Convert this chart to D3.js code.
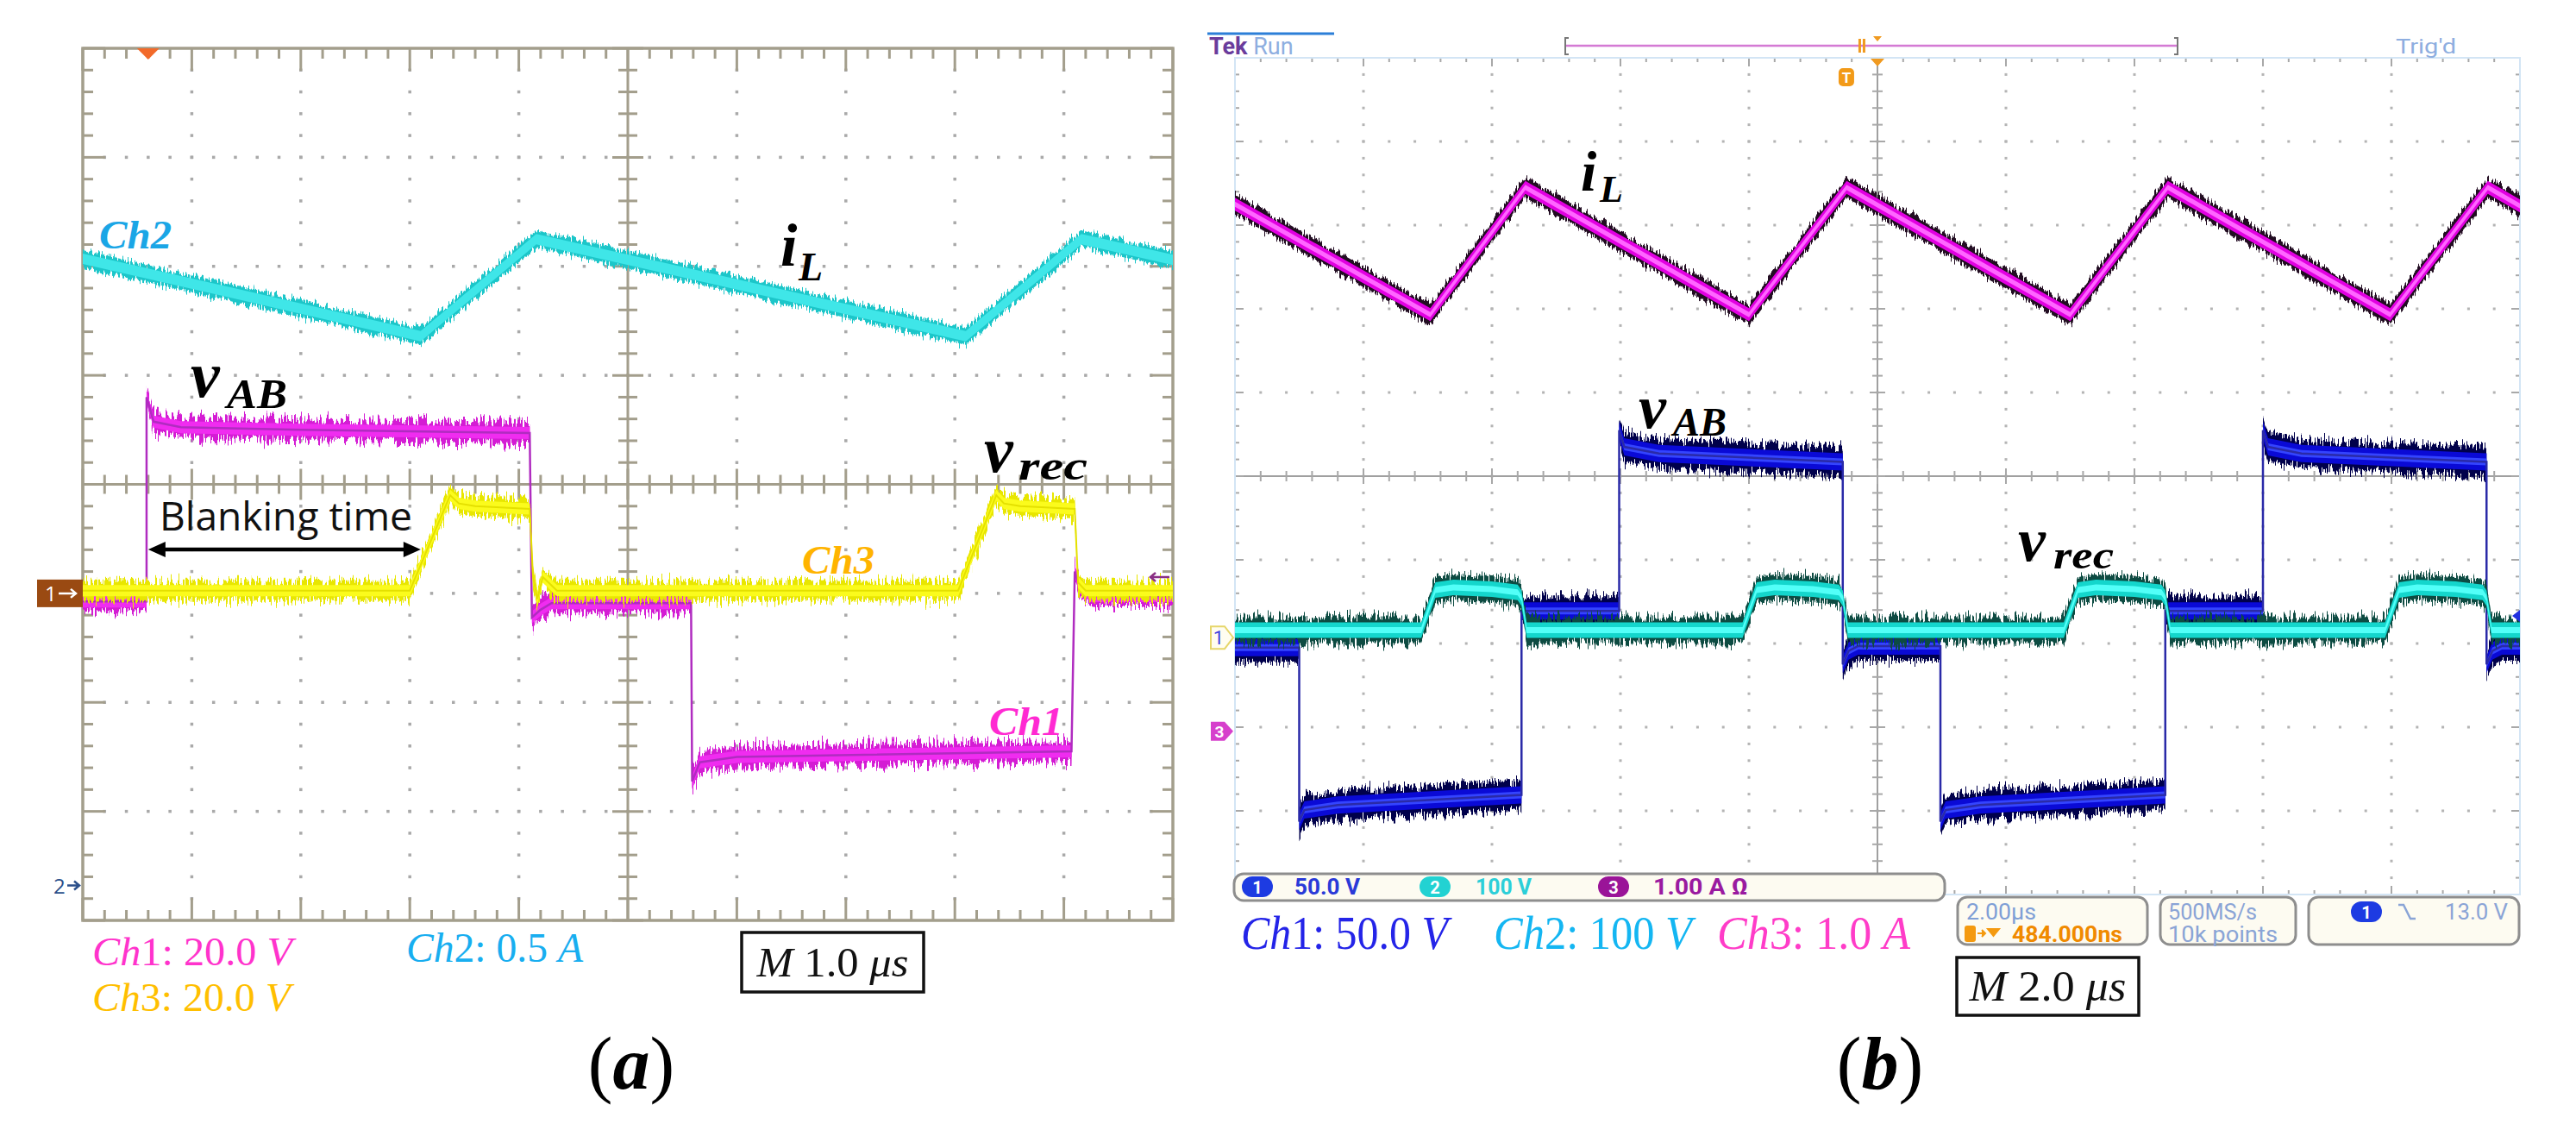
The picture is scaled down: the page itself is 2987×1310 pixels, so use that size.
<!DOCTYPE html>
<html>
<head>
<meta charset="utf-8">
<script src="https://cdn.jsdelivr.net/npm/d3@7"></script>
<style>
  body { margin: 0; background: #fff; }
  svg { display: block; }
</style>
</head>
<body>
<svg id="chart" width="2987" height="1310"></svg>
<script>
// ---------- panel (a): 1.0 us/div, 8 vertical divisions ----------
// channel settings (units per division, ground marker in divisions from centre)
const aPerDiv = [20, 0.5, 20];          // Ch1 V, Ch2 A, Ch3 V
const aGround = [-1, -3.68, -1];

// Ch2 : inductor current iL (A)
const aTimeIL = [0, 3.1, 4.16, 8.1, 9.16, 10];
const aIL     = [2.875, 2.52, 2.965, 2.52, 2.965, 2.87];

// Ch1 : vAB (V)
const aTimeVab = [0, 0.585, 0.585, 0.65, 0.9, 2.0, 4.1, 4.12, 4.2, 4.3, 5.58, 5.59, 5.66, 6.0, 9.07, 9.1, 9.15, 9.25, 10];
const aVab     = [-1.5, -1.5, 36, 31.5, 30.5, 30, 29.4, -4.4, -3, -1.8, -1.8, -34.5, -31, -30, -29, 4, 1, -0.5, -0.5];

// Ch3 : vrec (V)
const aTimeVrec = [0, 3.0, 3.37, 3.45, 3.6, 4.1, 4.13, 4.17, 4.22, 4.35, 8.03, 8.38, 8.45, 8.6, 9.1, 9.13, 9.2, 10];
const aVrec     = [0.5, 0.5, 18, 16.5, 16, 15.5, 3, -1, 3, 0.5, 0.5, 18, 16.5, 16, 15.5, 2, 0.5, 0.5];

// ---------- panel (b): 2.0 us/div, 10 vertical divisions ----------
const bPerDiv = [50, 100, 1];           // Ch1 V, Ch2 V, Ch3 A
const bGround = [-1.93, -1.84, -3.05];

// Ch3 : iL (A)
const bTimeIL = [0, 3.04, 4.52, 8.0, 9.52, 13.0, 14.52, 17.98, 19.5, 20];
const bIL     = [6.3, 4.98, 6.5, 4.98, 6.5, 4.98, 6.5, 4.98, 6.5, 6.28];

// Ch1 : vAB (V)
const bTimeVab = [0, 1.0, 1.0, 1.08, 1.6, 4.46, 4.46, 5.98, 5.98, 6.06, 6.6, 9.46, 9.46, 9.55, 9.7, 10.98, 10.98, 11.06, 11.6, 14.48, 14.48, 16.0, 16.0, 16.08, 16.6, 19.48, 19.48, 19.57, 19.72, 20];
const bVab     = [-6, -6, -110, -103, -100, -94, 16, 16, 124, 114, 110, 105, -16, -8, -5, -5, -110, -103, -100, -94, 16, 16, 124, 114, 110, 105, -16, -8, -5, -5];

// Ch2 : vrec (V)
const bTimeVrec = [0, 2.9, 3.12, 3.4, 4.0, 4.4, 4.46, 4.54, 7.9, 8.12, 8.4, 9.0, 9.4, 9.46, 9.54, 12.9, 13.12, 13.4, 14.0, 14.42, 14.48, 14.56, 17.9, 18.12, 18.4, 19.0, 19.42, 19.48, 19.56, 20];
const bVrec     = [0, 0, 48, 51, 49, 45, 38, 0, 0, 48, 51, 49, 45, 38, 0, 0, 48, 51, 49, 45, 38, 0, 0, 48, 51, 49, 45, 38, 0, 0];

// ---------- labels ----------
const aScaleLabels = ["Ch1: 20.0 V", "Ch2: 0.5 A", "Ch3: 20.0 V"];
const bScaleLabels = ["Ch1: 50.0 V", "Ch2: 100 V", "Ch3: 1.0 A"];
const bBadgeText   = ["50.0 V", "100 V", "1.00 A  \u03A9"];

const MATH = "'Liberation Serif', 'DejaVu Serif', serif";
const SANS = "'Open Sans', 'Noto Sans', sans-serif";
const TEK  = "Roboto, 'DejaVu Sans', sans-serif";

const svg = d3.select("#chart");

// noise filters, only texture for the trace bands
const defs = svg.append("defs");
function noiseFilter(id, scale, seed, fx) {
  const f = defs.append("filter").attr("id", id)
    .attr("filterUnits", "userSpaceOnUse").attr("x", 0).attr("y", 0)
    .attr("width", 2987).attr("height", 1310);
  f.append("feTurbulence").attr("type", "fractalNoise")
    .attr("baseFrequency", fx + " 0.03").attr("numOctaves", 2).attr("seed", seed).attr("result", "t");
  f.append("feColorMatrix").attr("in", "t").attr("type", "matrix")
    .attr("values", "1.6 0 0 0 -0.3  0 0 0 0 0.5  0 0 0 0 0.5  0 0 0 0 1").attr("result", "m");
  f.append("feDisplacementMap").attr("in", "SourceGraphic").attr("in2", "m")
    .attr("scale", scale).attr("xChannelSelector", "G").attr("yChannelSelector", "R");
}
noiseFilter("nz1", 12, 3, 0.5);
noiseFilter("nz2", 22, 7, 0.45);
noiseFilter("nz3", 18, 11, 0.6);

// ---------- scales ----------
const xA = d3.scaleLinear().domain([0, 10]).range([96, 1360]);
const dA = d3.scaleLinear().domain([-4, 4]).range([1067, 56]);
const xB = d3.scaleLinear().domain([0, 20]).range([1432, 2922]);
const dB = d3.scaleLinear().domain([-5, 5]).range([1037, 67]);

// ---------- graticules ----------
function graticule(g, xs, ds, xMaj, yDiv, st) {
  const [t0, t1] = xs.domain();
  const xMajors = d3.range(t0, t1 + 1e-9, xMaj);
  const xMinors = d3.range(t0, t1 + 1e-9, xMaj / 5);
  const yMajors = d3.range(-yDiv, yDiv + 1e-9, 1);
  const yMinors = d3.range(-yDiv, yDiv + 1e-9, 0.2);
  const xc = xs((t0 + t1) / 2), yc = ds(0);
  const X0 = xs(t0), X1 = xs(t1), Y0 = ds(yDiv), Y1 = ds(-yDiv);

  const dots = [];
  xMajors.slice(1, -1).forEach(t => { if (Math.abs(xs(t) - xc) > 1) yMinors.slice(1, -1).forEach(d => dots.push([xs(t), ds(d)])); });
  yMajors.slice(1, -1).forEach(d => { if (Math.abs(ds(d) - yc) > 1) xMinors.slice(1, -1).forEach(t => dots.push([xs(t), ds(d)])); });
  g.selectAll(null).data(dots).enter().append("rect")
    .attr("x", d => d[0] - st.dot / 2).attr("y", d => d[1] - st.dot / 2)
    .attr("width", st.dot).attr("height", st.dot).attr("fill", st.dotColor);

  // centre lines
  g.append("line").attr("x1", X0).attr("x2", X1).attr("y1", yc).attr("y2", yc)
    .attr("stroke", st.center).attr("stroke-width", st.cw);
  g.append("line").attr("x1", xc).attr("x2", xc).attr("y1", Y0).attr("y2", Y1)
    .attr("stroke", st.center).attr("stroke-width", st.cw);
  const tk = [];
  xMinors.forEach((t, i) => { const L = i % 5 === 0 ? st.cMaj : st.cMin; tk.push([xs(t), yc - L, xs(t), yc + L]); });
  yMinors.forEach((d, i) => { const L = i % 5 === 0 ? st.cMaj : st.cMin; tk.push([xc - L, ds(d), xc + L, ds(d)]); });
  // border ticks
  xMinors.forEach((t, i) => {
    const L = i % 5 === 0 ? st.bMaj : st.bMin;
    tk.push([xs(t), Y0, xs(t), Y0 + L]); tk.push([xs(t), Y1, xs(t), Y1 - L]);
  });
  yMinors.forEach((d, i) => {
    const L = i % 5 === 0 ? st.bMaj : st.bMin;
    tk.push([X0, ds(d), X0 + L, ds(d)]); tk.push([X1, ds(d), X1 - L, ds(d)]);
  });
  g.selectAll(null).data(tk).enter().append("line")
    .attr("x1", d => d[0]).attr("y1", d => d[1]).attr("x2", d => d[2]).attr("y2", d => d[3])
    .attr("stroke", st.tick).attr("stroke-width", st.tw);
  g.append("rect").attr("x", X0).attr("y", Y0).attr("width", X1 - X0).attr("height", Y1 - Y0)
    .attr("fill", "none").attr("stroke", st.border).attr("stroke-width", st.bw);
}

const gA = svg.append("g");
graticule(gA, xA, dA, 1, 4, {
  dot: 3.5, dotColor: "#a9a9a9", center: "#a39e8c", cw: 3, cMaj: 18, cMin: 11,
  bMaj: 26, bMin: 12, tick: "#a39e8c", tw: 3, border: "#a39e8c", bw: 3.5
});
const gB = svg.append("g");
graticule(gB, xB, dB, 2, 5, {
  dot: 3, dotColor: "#b4b4b4", center: "#a0a0a0", cw: 2, cMaj: 9, cMin: 6,
  bMaj: 10, bMin: 5, tick: "#a8a8a8", tw: 2, border: "#d3e5f5", bw: 2
});

// ---------- traces ----------
function trace(g, xs, ds, time, vals, perDiv, ground, layers, line) {
  const pts = time.map((t, i) => [xs(t), ds(vals[i] / perDiv + ground)]);
  layers.forEach(L => {
    const p = g.append("path").datum(pts)
      .attr("d", d3.area().x(d => d[0]).y0(d => d[1] - L.h).y1(d => d[1] + L.h))
      .attr("fill", L.c);
    if (L.f) p.attr("filter", "url(#" + L.f + ")");
  });
  if (line) g.append("path").datum(pts).attr("d", d3.line())
    .attr("fill", "none").attr("stroke", line.c).attr("stroke-width", line.w);
}

// panel (a)
trace(gA, xA, dA, aTimeVab, aVab, aPerDiv[0], aGround[0],
  [{h: 12, c: "#d41ad4", f: "nz2"}, {h: 7, c: "#f02cf0"}], {c: "#b02cc0", w: 2.5});
trace(gA, xA, dA, aTimeVrec, aVrec, aPerDiv[2], aGround[2],
  [{h: 11, c: "#e8e600", f: "nz2"}, {h: 6.5, c: "#fbfb1c"}], {c: "#e4e000", w: 2});
trace(gA, xA, dA, aTimeIL, aIL, aPerDiv[1], aGround[1],
  [{h: 10, c: "#1fc6c9", f: "nz1"}, {h: 6, c: "#3fe6e8"}], null);

// panel (b)
trace(gB, xB, dB, bTimeVab, bVab, bPerDiv[0], bGround[0],
  [{h: 17, c: "#00004c", f: "nz3"}, {h: 10, c: "#0a0ad6"}, {h: 4, c: "#3444ff"}], {c: "#2a2aa8", w: 2.5});
trace(gB, xB, dB, bTimeVrec, bVrec, bPerDiv[1], bGround[1],
  [{h: 15, c: "#0a4c42", f: "nz3"}, {h: 9, c: "#14d6cc"}, {h: 3.5, c: "#52fff8"}], null);
trace(gB, xB, dB, bTimeIL, bIL, bPerDiv[2], bGround[2],
  [{h: 12, c: "#230a22", f: "nz1"}, {h: 7.5, c: "#e200e2"}, {h: 3, c: "#ff66ff"}], null);

// ---------- text helpers ----------
function label(g, x, y, str, o) {
  const t = g.append("text").attr("x", x).attr("y", y)
    .attr("font-family", o.family || MATH).attr("font-size", o.size).attr("fill", o.fill || "#000");
  if (o.italic) t.attr("font-style", "italic");
  if (o.bold) t.attr("font-weight", "bold");
  if (o.anchor) t.attr("text-anchor", o.anchor);
  if (o.len) t.attr("textLength", o.len).attr("lengthAdjust", "spacingAndGlyphs");
  t.text(str);
  return t;
}
// squeeze a mixed-style text horizontally to a target width
function fitWidth(t, x, y, len) {
  const w = t.node().getComputedTextLength();
  t.attr("x", 0).attr("y", 0).attr("transform", `translate(${x},${y}) scale(${len / w},1)`);
}
function scaleLabel(g, x, y, str, fill, len, size) {
  // "Ch" and unit italic, numbers upright, like the equation font
  const m = str.match(/^(Ch)(\d: [\d.]+ )(\S+)$/);
  const t = g.append("text").attr("font-family", MATH)
    .attr("font-size", size).attr("fill", fill);
  t.append("tspan").attr("font-style", "italic").text(m[1]);
  t.append("tspan").text(m[2]);
  t.append("tspan").attr("font-style", "italic").text(m[3]);
  fitWidth(t, x, y, len);
}
function panelTag(g, cx, y, letter) {
  const t = g.append("text").attr("x", cx).attr("y", y).attr("text-anchor", "middle")
    .attr("font-family", MATH).attr("font-size", 86).attr("fill", "#000");
  t.append("tspan").text("(");
  t.append("tspan").attr("font-style", "italic").attr("font-weight", "bold").text(letter);
  t.append("tspan").text(")");
}
function timeBox(g, x, y, w, h, str, size, len) {
  g.append("rect").attr("x", x).attr("y", y).attr("width", w).attr("height", h)
    .attr("fill", "#fff").attr("stroke", "#111").attr("stroke-width", 3.5);
  const t = g.append("text").attr("font-family", MATH).attr("font-size", size).attr("fill", "#111");
  t.append("tspan").attr("font-style", "italic").text("M");
  t.append("tspan").text(" " + str + " ");
  t.append("tspan").attr("font-style", "italic").text("\u03BCs");
  fitWidth(t, x + (w - len) / 2, y + h * 0.74, len);
}

// ---------- panel (a) annotations ----------
const tA = svg.append("g");
// trigger position marker and channel markers
tA.append("path").attr("d", `M${xA(0.6) - 13},56 h26 l-13,13 z`).attr("fill", "#f26a2a");
tA.append("rect").attr("x", 43).attr("y", dA(aGround[0]) - 16).attr("width", 53).attr("height", 32).attr("fill", "#9a4a12");
label(tA, 52, dA(aGround[0]) + 9, "1", {family: SANS, size: 24, fill: "#fff"});
tA.append("path").attr("d", `M68,${dA(aGround[0])} h20 m-6,-5 l6,5 l-6,5`).attr("stroke", "#fff").attr("stroke-width", 2.5).attr("fill", "none");
label(tA, 62, dA(aGround[1]) + 9, "2", {family: SANS, size: 24, fill: "#2b4f8a"});
tA.append("path").attr("d", `M78,${dA(aGround[1])} h14 m-6,-5 l6,5 l-6,5`).attr("stroke", "#2b4f8a").attr("stroke-width", 2.5).attr("fill", "none");
// trigger level arrow (3 V on Ch1)
const trigA = dA(3 / aPerDiv[0] + aGround[0]);
tA.append("path").attr("d", `M1356,${trigA} h-22 m6,-5 l-6,5 l6,5`).attr("stroke", "#8a2f86").attr("stroke-width", 2.5).attr("fill", "none");

label(tA, 115, 288, "Ch2", {size: 46, italic: true, bold: true, fill: "#1aa6e6", len: 84});
label(tA, 930, 665, "Ch3", {size: 46, italic: true, bold: true, fill: "#ffb400", len: 84});
label(tA, 1147, 852, "Ch1", {size: 46, italic: true, bold: true, fill: "#ff2ad2", len: 86});
label(tA, 905, 308, "i", {size: 70, italic: true, bold: true});
label(tA, 926, 325, "L", {size: 46, italic: true, bold: true});
label(tA, 221, 460, "v", {size: 76, italic: true, bold: true});
label(tA, 263, 473, "AB", {size: 48, italic: true, bold: true, len: 70});
label(tA, 1141, 547, "v", {size: 76, italic: true, bold: true});
label(tA, 1181, 556, "rec", {size: 48, italic: true, bold: true, len: 80});
label(tA, 185, 615, "Blanking time", {family: SANS, size: 46, fill: "#111", len: 293});
// blanking-time double arrow
const arY = 637, arL = xA(0.6), arR = xA(3.1);
tA.append("line").attr("x1", arL + 14).attr("x2", arR - 14).attr("y1", arY).attr("y2", arY).attr("stroke", "#000").attr("stroke-width", 4.5);
tA.append("path").attr("d", `M${arL},${arY} l20,-9 v18 z M${arR},${arY} l-20,-9 v18 z`).attr("fill", "#000");

scaleLabel(tA, 107, 1119, aScaleLabels[0], "#ff33cc", 232, 46);
scaleLabel(tA, 107, 1172, aScaleLabels[2], "#ffbf00", 230, 46);
scaleLabel(tA, 471, 1115, aScaleLabels[1], "#18aef0", 205, 48);
timeBox(tA, 860, 1081, 211, 69, "1.0", 48, 176);
panelTag(tA, 732, 1262, "a");

// ---------- panel (b) annotations ----------
const tB = svg.append("g");
// header
tB.append("line").attr("x1", 1400).attr("x2", 1547).attr("y1", 39).attr("y2", 39).attr("stroke", "#2c7fd8").attr("stroke-width", 3);
const tek = tB.append("text").attr("x", 1402).attr("y", 63).attr("font-family", TEK).attr("font-size", 27);
tek.append("tspan").attr("fill", "#6a3c9c").attr("font-weight", "bold").text("Tek");
tek.append("tspan").attr("fill", "#8eaee0").text(" Run");
tB.append("line").attr("x1", 1815).attr("x2", 2525).attr("y1", 53).attr("y2", 53).attr("stroke", "#d47ad4").attr("stroke-width", 2.5);
tB.append("path").attr("d", "M1819,44 h-4 v19 h4 M2521,44 h4 v19 h-4").attr("stroke", "#777").attr("stroke-width", 2).attr("fill", "none");
tB.append("rect").attr("x", xB(9.516) + 14).attr("y", 45).attr("width", 3).attr("height", 16).attr("fill", "#f09a20");
tB.append("rect").attr("x", xB(9.516) + 19).attr("y", 45).attr("width", 3).attr("height", 16).attr("fill", "#f09a20");
tB.append("path").attr("d", `M${xB(10) - 5},42 h10 l-5,6 z M${xB(10) - 8},68 h16 l-8,9 z`).attr("fill", "#f09a20");
tB.append("rect").attr("x", xB(9.516) - 9).attr("y", 79).attr("width", 18).attr("height", 21).attr("rx", 5).attr("fill", "#f29a18");
label(tB, xB(9.516), 96, "T", {family: TEK, size: 17, fill: "#fff", anchor: "middle", bold: true});
label(tB, 2778, 62, "Trig'd", {family: TEK, size: 24, fill: "#8eaee0", len: 70});

// channel ground markers
const g1 = dB(bGround[0]), g3 = dB(bGround[2]);
tB.append("path").attr("d", `M1404,${g1 - 13} h16 l10,13 l-10,13 h-16 z`).attr("fill", "#fffdf0").attr("stroke", "#e6d66a").attr("stroke-width", 2);
label(tB, 1413, g1 + 8, "1", {family: TEK, size: 22, fill: "#4040e0", anchor: "middle"});
tB.append("path").attr("d", `M1404,${g3 - 11} h16 l10,11 l-10,11 h-16 z`).attr("fill", "#d640cc");
label(tB, 1414, g3 + 7, "3", {family: TEK, size: 19, fill: "#fff", anchor: "middle", bold: true});
// trigger level (13 V on Ch1)
const trigB = dB(13 / bPerDiv[0] + bGround[0]);
tB.append("path").attr("d", `M2922,${trigB - 7} l-9,7 l9,7 z`).attr("fill", "#2030e0");

label(tB, 1833, 221, "i", {size: 66, italic: true, bold: true});
label(tB, 1855, 234, "L", {size: 44, italic: true, bold: true});
label(tB, 1900, 496, "v", {size: 72, italic: true, bold: true});
label(tB, 1940, 505, "AB", {size: 46, italic: true, bold: true, len: 62});
label(tB, 2340, 650, "v", {size: 72, italic: true, bold: true});
label(tB, 2381, 659, "rec", {size: 46, italic: true, bold: true, len: 70});

// Tek readout bar
function tekBox(x, y, w, h) {
  tB.append("rect").attr("x", x).attr("y", y).attr("width", w).attr("height", h).attr("rx", 11)
    .attr("fill", "#fdfbf1").attr("stroke", "#8e8e8e").attr("stroke-width", 3);
}
function badge(cx, cy, n, fill) {
  tB.append("rect").attr("x", cx - 18).attr("y", cy - 12).attr("width", 36).attr("height", 24).attr("rx", 12).attr("fill", fill);
  label(tB, cx, cy + 8, n, {family: TEK, size: 20, fill: "#fff", anchor: "middle", bold: true});
}
tekBox(1431, 1013, 824, 31);
const badgeX = [1458, 1664, 1871], badgeFill = ["#1d3be2", "#22d2d2", "#9a1498"];
const badgeTextX = [1501, 1711, 1917], badgeTextFill = ["#2a3ad8", "#2ccfd8", "#9a1aa0"], badgeLen = [76, 65, 110];
badgeX.forEach((x, i) => {
  badge(x, 1028, String(i + 1), badgeFill[i]);
  label(tB, badgeTextX[i], 1037, bBadgeText[i], {family: TEK, size: 25, fill: badgeTextFill[i], bold: true, len: badgeLen[i]});
});

tekBox(2270, 1040, 220, 55);
label(tB, 2280, 1066, "2.00\u03BCs", {family: TEK, size: 25, fill: "#7f9fd6", len: 81});
tB.append("rect").attr("x", 2278).attr("y", 1073).attr("width", 13).attr("height", 19).attr("rx", 3).attr("fill", "#f49a10");
tB.append("path").attr("d", "M2293,1082 h9 m-4,-4 l4,4 l-4,4 M2305,1077 h13 l-6.5,8 z").attr("stroke", "#f49a10").attr("stroke-width", 2).attr("fill", "#f49a10");
label(tB, 2333, 1092, "484.000ns", {family: TEK, size: 25, fill: "#f08a00", bold: true, len: 128});
tekBox(2505, 1040, 157, 55);
label(tB, 2514, 1066, "500MS/s", {family: TEK, size: 25, fill: "#8aa4d6", len: 103});
label(tB, 2514, 1092, "10k points", {family: TEK, size: 25, fill: "#8aa4d6", len: 127});
tekBox(2677, 1040, 244, 55);
badge(2744, 1057, "1", "#1d3be2");
tB.append("path").attr("d", "M2781,1049 h6 l8,16 h6").attr("stroke", "#8aa4d6").attr("stroke-width", 2.5).attr("fill", "none");
label(tB, 2835, 1066, "13.0 V", {family: TEK, size: 25, fill: "#8aa4d6", len: 73});

scaleLabel(tB, 1439, 1100, bScaleLabels[0], "#2424e8", 240, 54);
scaleLabel(tB, 1732, 1100, bScaleLabels[1], "#14b6f2", 230, 54);
scaleLabel(tB, 1991, 1100, bScaleLabels[2], "#ff3cc8", 224, 54);
timeBox(tB, 2269, 1110, 211, 67, "2.0", 50, 182);
panelTag(tB, 2180, 1262, "b");
</script>
</body>
</html>
